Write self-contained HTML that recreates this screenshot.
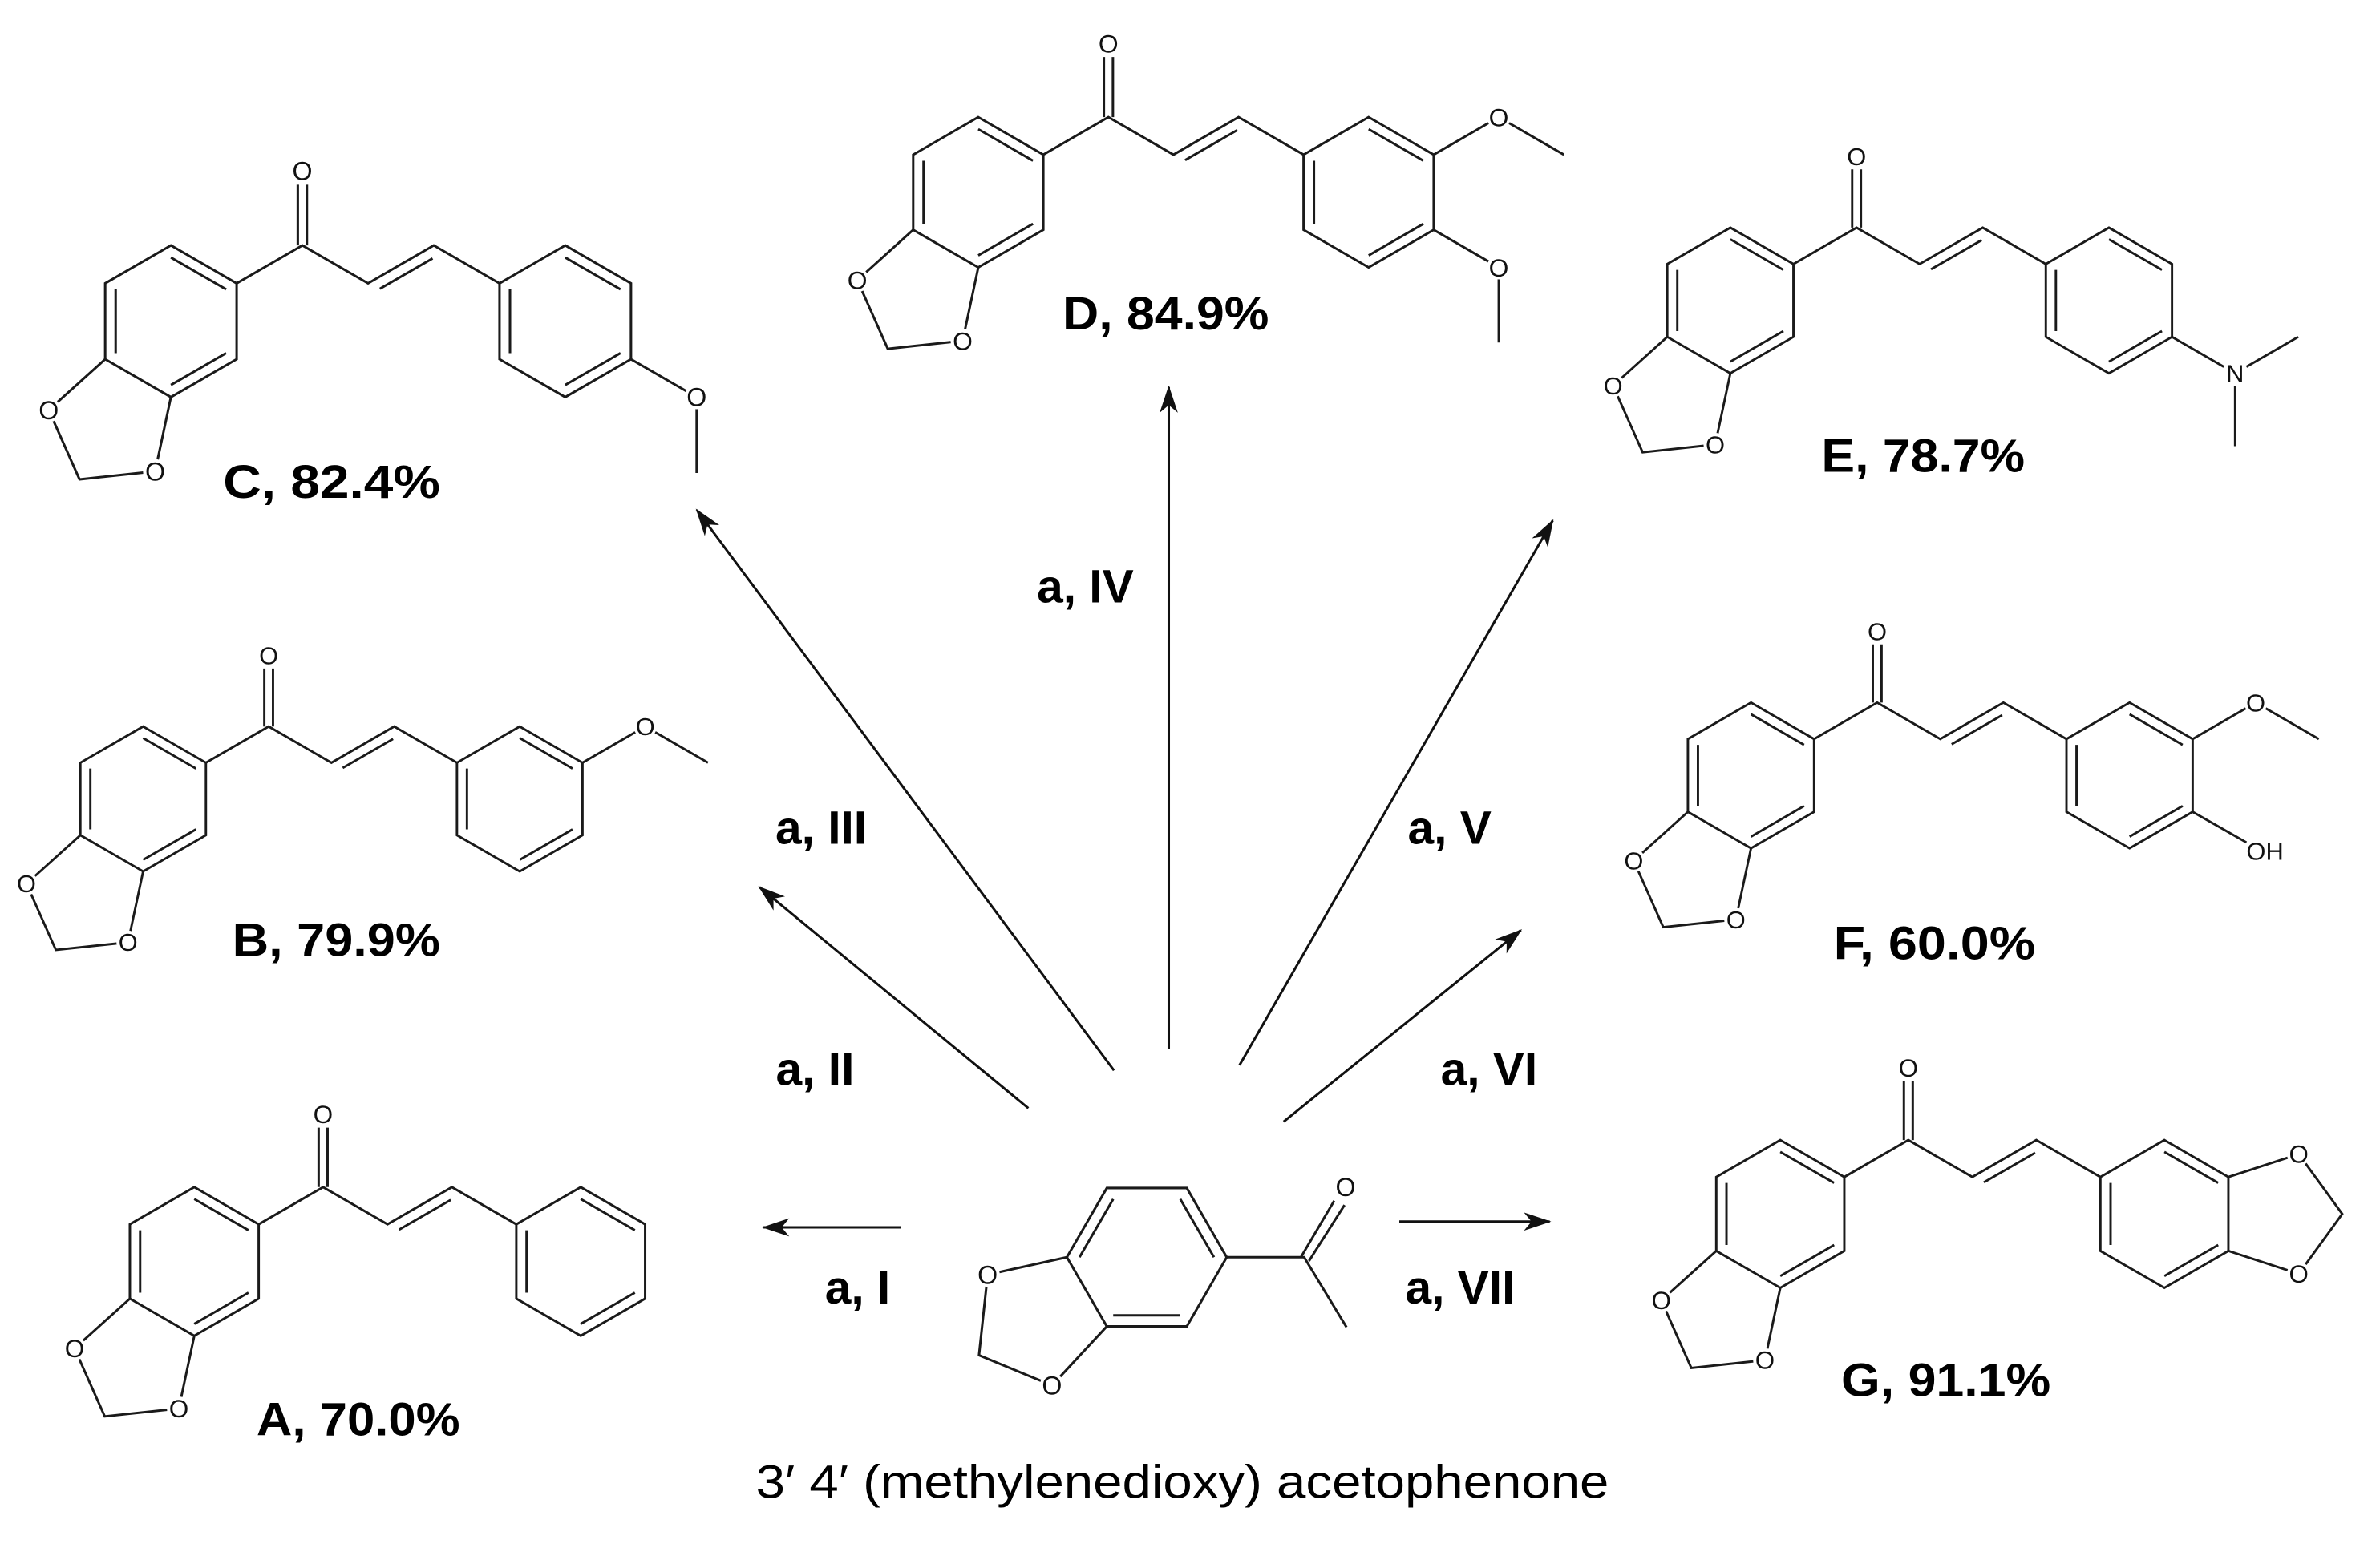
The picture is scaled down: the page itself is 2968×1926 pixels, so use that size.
<!DOCTYPE html>
<html><head><meta charset="utf-8"><style>
html,body{margin:0;padding:0;background:#fff}
svg{display:block}
.b{fill:none;stroke:#1a1a1a;stroke-width:1.6;stroke-linejoin:miter;stroke-linecap:butt}
.at{font-family:"Liberation Sans",sans-serif;font-size:17px;fill:#111;text-anchor:middle}
.lb{font-family:"Liberation Sans",sans-serif;font-size:31px;font-weight:bold;fill:#000}
.cap{font-family:"Liberation Sans",sans-serif;font-size:31px;fill:#000}
.ar{fill:none;stroke:#111;stroke-width:1.6}
</style></head><body>
<svg width="2968" height="1926" viewBox="0 0 1568 1017.5" preserveAspectRatio="none" xmlns="http://www.w3.org/2000/svg">
<defs>
<marker id="ah" markerUnits="userSpaceOnUse" markerWidth="18" markerHeight="12" refX="17" refY="6" orient="auto">
<path d="M0,0 L18,6 L0,12 L5,6 Z" fill="#111"/>
</marker>
<symbol id="core" overflow="visible">
<path class="b" d="M0,-50 L43.3,-25 L43.3,25 L0,50 L-43.3,25 L-43.3,-25 Z"/>
<path class="b" d="M0,-42 L36.4,-21 M36.4,21 L0,42 M-36.4,21 L-36.4,-21"/>
<path class="b" d="M-43.3,25 L-80.5,58.5 L-60.2,104.2 L-10.4,98.9 L0,50"/>
<path class="b" d="M43.3,-25 L86.6,-50 L129.9,-25 L173.2,-50 L216.5,-25"/>
<path class="b" d="M83.6,-50 L83.6,-90 M89.6,-50 L89.6,-90"/>
<path class="b" d="M137.7,-21.4 L172.4,-41.4"/>
<path class="b" d="M259.8,-50 L303.1,-25 L303.1,25 L259.8,50 L216.5,25 L216.5,-25 Z"/>
<path class="b" d="M259.8,-42 L296.2,-21 M296.2,21 L259.8,42 M223.4,21 L223.4,-21"/>
</symbol>
</defs>
<rect width="1568" height="1017.5" fill="#fff"/>

<!-- A -->
<g transform="translate(128,831.3) scale(0.98)">
<use href="#core"/>
<circle cx="-80.5" cy="58.5" r="8" fill="#fff"/><circle cx="-10.4" cy="98.9" r="8" fill="#fff"/><circle cx="86.6" cy="-99" r="8" fill="#fff"/>
<text class="at" x="-80.5" y="64.5">O</text><text class="at" x="-10.4" y="104.9">O</text><text class="at" x="86.6" y="-93">O</text>
</g>
<!-- B -->
<g transform="translate(94.3,526.5) scale(0.955)">
<use href="#core"/>
<path class="b" d="M303.1,-25 L346.4,-50 L389.7,-25"/>
<circle cx="-80.5" cy="58.5" r="8" fill="#fff"/><circle cx="-10.4" cy="98.9" r="8" fill="#fff"/><circle cx="86.6" cy="-99" r="8" fill="#fff"/><circle cx="346.4" cy="-50" r="8" fill="#fff"/>
<text class="at" x="-80.5" y="64.5">O</text><text class="at" x="-10.4" y="104.9">O</text><text class="at" x="86.6" y="-93">O</text><text class="at" x="346.4" y="-44">O</text>
</g>
<!-- C -->
<g transform="translate(112.6,211.7) scale(1.0)">
<use href="#core"/>
<path class="b" d="M303.1,25 L346.4,50 L346.4,100"/>
<circle cx="-80.5" cy="58.5" r="8" fill="#fff"/><circle cx="-10.4" cy="98.9" r="8" fill="#fff"/><circle cx="86.6" cy="-99" r="8" fill="#fff"/><circle cx="346.4" cy="50" r="8" fill="#fff"/>
<text class="at" x="-80.5" y="64.5">O</text><text class="at" x="-10.4" y="104.9">O</text><text class="at" x="86.6" y="-93">O</text><text class="at" x="346.4" y="56">O</text>
</g>
<!-- D -->
<g transform="translate(644.5,126.7) scale(0.99)">
<use href="#core"/>
<path class="b" d="M303.1,-25 L346.4,-50 L389.7,-25 M303.1,25 L346.4,50 L346.4,100"/>
<circle cx="-80.5" cy="58.5" r="8" fill="#fff"/><circle cx="-10.4" cy="98.9" r="8" fill="#fff"/><circle cx="86.6" cy="-99" r="8" fill="#fff"/><circle cx="346.4" cy="-50" r="8" fill="#fff"/><circle cx="346.4" cy="50" r="8" fill="#fff"/>
<text class="at" x="-80.5" y="64.5">O</text><text class="at" x="-10.4" y="104.9">O</text><text class="at" x="86.6" y="-93">O</text><text class="at" x="346.4" y="-44">O</text><text class="at" x="346.4" y="56">O</text>
</g>
<!-- E -->
<g transform="translate(1140,198) scale(0.96)">
<use href="#core"/>
<path class="b" d="M303.1,25 L346.4,50 L389.7,25 M346.4,50 L346.4,100"/>
<circle cx="-80.5" cy="58.5" r="8" fill="#fff"/><circle cx="-10.4" cy="98.9" r="8" fill="#fff"/><circle cx="86.6" cy="-99" r="8" fill="#fff"/><circle cx="346.4" cy="50" r="9" fill="#fff"/>
<text class="at" x="-80.5" y="64.5">O</text><text class="at" x="-10.4" y="104.9">O</text><text class="at" x="86.6" y="-93">O</text><text class="at" x="346.4" y="56">N</text>
</g>
<!-- F -->
<g transform="translate(1153.6,511) scale(0.96)">
<use href="#core"/>
<path class="b" d="M303.1,-25 L346.4,-50 L389.7,-25 M303.1,25 L340,46"/>
<circle cx="-80.5" cy="58.5" r="8" fill="#fff"/><circle cx="-10.4" cy="98.9" r="8" fill="#fff"/><circle cx="86.6" cy="-99" r="8" fill="#fff"/><circle cx="346.4" cy="-50" r="8" fill="#fff"/>
<text class="at" x="-80.5" y="64.5">O</text><text class="at" x="-10.4" y="104.9">O</text><text class="at" x="86.6" y="-93">O</text><text class="at" x="346.4" y="-44">O</text><text class="at" x="340" y="58" style="text-anchor:start">OH</text>
</g>
<!-- G -->
<g transform="translate(1172.9,800) scale(0.974)">
<use href="#core"/>
<path class="b" d="M303.1,-25 L350.7,-40.5 L380.1,0 L350.7,40.5 L303.1,25"/>
<circle cx="-80.5" cy="58.5" r="8" fill="#fff"/><circle cx="-10.4" cy="98.9" r="8" fill="#fff"/><circle cx="86.6" cy="-99" r="8" fill="#fff"/><circle cx="350.7" cy="-40.5" r="8" fill="#fff"/><circle cx="350.7" cy="40.5" r="8" fill="#fff"/>
<text class="at" x="-80.5" y="64.5">O</text><text class="at" x="-10.4" y="104.9">O</text><text class="at" x="86.6" y="-93">O</text><text class="at" x="350.7" y="-34.5">O</text><text class="at" x="350.7" y="46.5">O</text>
</g>

<!-- central acetophenone -->
<g>
<path class="b" d="M729.2,782.9 L781.9,782.9 L808.2,828.5 L781.9,874.1 L729.2,874.1 L702.9,828.5 Z"/>
<path class="b" d="M733.4,790.2 L711.2,828.5 M777.6,790.2 L799.8,828.5 M733.4,866.8 L777.6,866.8"/>
<path class="b" d="M808.2,828.5 L859.2,828.5 L887.1,874.6"/>
<path class="b" d="M857.3,828.1 L879,791.3 M862.4,831 L885.8,794.1"/>
<path class="b" d="M702.9,828.5 L650.7,840 L645,893.1 L693.1,913 L729.2,874.1"/>
<circle cx="650.7" cy="840" r="8" fill="#fff"/><circle cx="693.1" cy="913" r="8" fill="#fff"/><circle cx="886.5" cy="782.2" r="8" fill="#fff"/>
<text class="at" x="650.7" y="846">O</text><text class="at" x="693.1" y="919">O</text><text class="at" x="886.5" y="788.2">O</text>
</g>

<!-- arrows -->
<line class="ar" x1="593.4" y1="808.8" x2="503" y2="808.8" marker-end="url(#ah)"/>
<line class="ar" x1="921.9" y1="805" x2="1021" y2="805" marker-end="url(#ah)"/>
<line class="ar" x1="677.5" y1="730.3" x2="500.3" y2="584.6" marker-end="url(#ah)"/>
<line class="ar" x1="733.9" y1="705.4" x2="459" y2="336" marker-end="url(#ah)"/>
<line class="ar" x1="770" y1="691" x2="770" y2="255" marker-end="url(#ah)"/>
<line class="ar" x1="816.6" y1="702" x2="1023" y2="343" marker-end="url(#ah)"/>
<line class="ar" x1="845.7" y1="739.2" x2="1002" y2="613" marker-end="url(#ah)"/>

<!-- reaction labels -->
<text class="lb" x="715" y="397" text-anchor="middle">a, IV</text>
<text class="lb" x="541" y="556" text-anchor="middle">a, III</text>
<text class="lb" x="537" y="715" text-anchor="middle">a, II</text>
<text class="lb" x="565" y="859" text-anchor="middle">a, I</text>
<text class="lb" x="955" y="556" text-anchor="middle">a, V</text>
<text class="lb" x="981" y="715" text-anchor="middle">a, VI</text>
<text class="lb" x="962" y="859" text-anchor="middle">a, VII</text>

<!-- product labels -->
<text class="lb" x="169" y="946" textLength="134" lengthAdjust="spacingAndGlyphs">A, 70.0%</text>
<text class="lb" x="153" y="630" textLength="137" lengthAdjust="spacingAndGlyphs">B, 79.9%</text>
<text class="lb" x="147" y="328" textLength="143" lengthAdjust="spacingAndGlyphs">C, 82.4%</text>
<text class="lb" x="700" y="217" textLength="136" lengthAdjust="spacingAndGlyphs">D, 84.9%</text>
<text class="lb" x="1200" y="311" textLength="134" lengthAdjust="spacingAndGlyphs">E, 78.7%</text>
<text class="lb" x="1208" y="632" textLength="133" lengthAdjust="spacingAndGlyphs">F, 60.0%</text>
<text class="lb" x="1213" y="920" textLength="138" lengthAdjust="spacingAndGlyphs">G, 91.1%</text>

<text class="cap" x="498" y="987" textLength="562" lengthAdjust="spacingAndGlyphs">3′ 4′ (methylenedioxy) acetophenone</text>
</svg>
</body></html>
